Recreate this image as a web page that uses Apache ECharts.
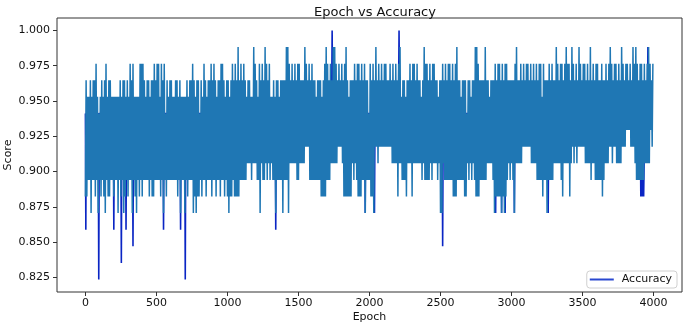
<!DOCTYPE html>
<html><head><meta charset="utf-8">
<script src="https://cdn.jsdelivr.net/npm/echarts@6/dist/echarts.min.js"></script>
<style>html,body{margin:0;padding:0;background:#fff}#c{width:685px;height:325px}</style>
</head><body><div id="c"></div>
<script>
// Accuracy values are counts of correct samples out of TEST_SAMPLES.
const TEST_SAMPLES = 85;
// Each 10-epoch bucket: lowest and highest count seen in that bucket (tab-blue trace)
const BUCKET = 10;
const hiCount = [
82,81,81,82,81,82,82,83,81,80,81,82,81,82,83,81,82,82,81,81,
81,81,81,81,82,81,82,82,81,82,81,83,82,83,81,81,81,81,83,83,
83,82,81,82,82,81,82,82,83,82,83,83,81,83,82,83,80,82,81,82,
82,81,81,82,82,81,82,81,81,81,81,82,81,82,82,83,82,81,82,82,
80,82,81,83,82,81,82,82,83,82,83,82,81,82,82,83,83,82,81,82,
82,81,82,83,82,83,82,84,82,83,82,83,82,81,82,82,81,81,84,83,
82,81,83,82,83,82,84,83,82,83,81,81,82,81,82,82,81,82,82,82,
82,84,84,83,82,83,82,83,82,83,83,82,82,82,84,83,82,83,82,83,
82,82,81,82,82,82,81,82,83,84,83,82,83,82,84,84,83,82,83,82,
83,82,83,84,82,81,82,82,82,83,82,83,83,82,83,82,83,82,82,80,
83,82,83,82,84,82,83,82,83,82,83,83,82,82,83,82,83,82,83,82,
83,84,81,82,82,81,82,82,83,82,83,83,82,83,82,82,81,82,84,83,
83,82,83,82,83,83,82,82,81,82,82,83,82,83,82,83,83,82,83,82,
83,84,82,82,81,82,82,82,80,82,82,81,82,82,84,84,83,82,82,82,
82,84,82,82,81,82,82,82,83,82,83,83,82,83,82,83,83,82,82,82,
82,82,83,84,82,82,83,82,83,82,83,83,82,83,82,83,82,83,82,83,
83,81,83,82,82,82,83,82,83,82,82,84,83,82,83,83,82,83,84,83,
83,82,84,83,82,83,82,84,83,82,83,83,82,83,82,84,82,83,82,83,
83,82,82,83,82,82,83,82,83,84,83,82,83,83,82,83,82,84,83,82,
83,83,82,83,82,84,83,84,83,82,83,83,82,83,82,83,84,83,82,83
];
const loCount = [
75,75,76,76,74,76,76,75,76,74,76,75,76,75,74,76,75,75,76,76,
75,76,76,74,76,75,76,74,75,76,75,76,76,74,76,75,74,76,75,76,
75,76,76,76,76,75,76,75,75,76,76,76,76,75,76,74,76,75,76,76,
76,76,76,76,76,75,76,74,76,76,74,76,75,76,76,76,74,75,74,75,
75,76,75,76,76,75,76,76,76,75,76,76,75,76,76,75,76,76,75,76,
75,74,75,75,76,75,75,75,75,76,76,76,76,76,77,77,77,76,77,77,
77,76,76,74,77,76,76,77,76,77,76,77,76,76,74,76,76,76,76,74,
76,76,76,74,77,77,77,77,77,76,76,77,77,77,77,78,78,78,76,76,
76,76,76,76,76,76,75,75,75,75,76,76,76,77,77,77,77,77,78,78,
78,77,75,75,75,75,75,75,77,76,77,76,75,75,75,76,76,74,76,76,
76,75,75,74,78,78,77,78,78,78,78,78,78,78,78,78,77,77,77,77,
75,77,77,76,76,76,75,77,77,77,75,77,77,77,77,77,77,76,77,76,
76,76,76,77,76,77,77,77,76,77,74,74,77,76,76,76,76,76,76,75,
75,75,76,76,76,76,76,75,75,77,76,77,76,77,76,75,75,75,76,76,
76,76,76,77,77,77,77,76,74,75,75,75,75,74,75,74,75,76,77,76,
77,76,74,77,77,77,77,77,78,78,78,78,78,78,77,77,77,77,76,76,
76,76,75,76,76,74,76,76,76,76,77,77,77,77,77,76,75,77,77,77,
77,75,77,78,77,78,77,78,78,78,78,78,77,77,77,77,76,77,77,76,
76,76,76,76,75,76,77,77,77,78,78,77,78,78,77,77,77,77,78,78,
78,79,79,79,78,78,78,77,76,76,76,76,76,76,77,77,77,77,79,78
];
// Dark-blue "Accuracy" trace: only its excursions beyond the band are visible
const darkEpoch = [0,3,6, 90,94,98, 196,200,204, 249,253,257, 282,286,290, 331,335,339,
  546,550,554, 666,670,674, 699,703,707, 1336,1340,1344, 1733,1737,1741, 1966,1970,1974,
  2031,2035,2039, 2204,2208,2212, 2511,2515,2519, 2884,2888,2892, 2926,2930,2934,
  2951,2955,2959, 3016,3020,3024, 3254,3258,3262,
  3906,3910,3915,3920,3925,3930,3935,3940, 3956,3960,3964];
const darkCount = [80,73,80, 80,70,80, 80,73,80, 80,71,80, 80,73,80, 80,72,80,
  80,73,80, 80,73,80, 80,70,80, 80,73,80, 80,85,80, 80,74,80,
  80,74,80, 80,85,80, 80,72,80, 80,74,80, 80,74,80,
  80,74,80, 80,74,80, 80,74,80,
  80,75,78,75,78,75,78,80, 80,84,80];
const yTicks = [0.825,0.85,0.875,0.9,0.925,0.95,0.975,1.0];
const xTicks = [0,500,1000,1500,2000,2500,3000,3500,4000];

const mainData = [];
for (let i = 0; i < hiCount.length; i++) {
  mainData.push([i * BUCKET, loCount[i] / TEST_SAMPLES]);
  mainData.push([i * BUCKET + BUCKET / 2, hiCount[i] / TEST_SAMPLES]);
}
const darkData = darkEpoch.map((e, i) => [e, darkCount[i] / TEST_SAMPLES]);

const FONT = 'DejaVu Sans';
const chart = echarts.init(document.getElementById('c'), null, {renderer: 'canvas'});
chart.setOption({
  animation: false,
  backgroundColor: '#fff',
  title: {
    text: 'Epoch vs Accuracy', left: 370, top: 1, textAlign: 'center',
    textStyle: {fontFamily: FONT, fontSize: 13, fontWeight: 'normal', color: '#111'}
  },
  grid: {left: 57, right: 3, top: 18, bottom: 33, show: true, borderColor: '#333', borderWidth: 1,
    backgroundColor: 'transparent', containLabel: false, outerBoundsMode: 'none'},
  legend: {
    data: ['Accuracy'], right: 8, bottom: 37, orient: 'horizontal',
    backgroundColor: '#fff', borderColor: '#d0d0d0', borderWidth: 1, borderRadius: 3,
    padding: [3, 5, 3, 3], icon: 'rect', itemWidth: 24, itemHeight: 2,
    textStyle: {fontFamily: FONT, fontSize: 11, color: '#111', padding: [0, 0, 0, 3]}
  },
  xAxis: {
    type: 'value', min: -200, max: 4200,
    name: 'Epoch', nameLocation: 'middle', nameGap: 20, nameMoveOverlap: false,
    nameTextStyle: {fontFamily: FONT, fontSize: 11, color: '#111'},
    axisLine: {show: false, onZero: false},
    axisTick: {show: true, inside: false, length: 4, lineStyle: {color: '#333'}, customValues: xTicks},
    axisLabel: {fontFamily: FONT, fontSize: 11, color: '#111', margin: 6, customValues: xTicks,
      formatter: v => String(Math.round(v))},
    splitLine: {show: false}
  },
  yAxis: {
    type: 'value', min: 0.8147, max: 1.0088,
    name: 'Score', nameLocation: 'middle', nameGap: 43, nameMoveOverlap: false,
    nameTextStyle: {fontFamily: FONT, fontSize: 11, color: '#111'},
    axisLine: {show: false, onZero: false},
    axisTick: {show: true, inside: false, length: 4, lineStyle: {color: '#333'}, customValues: yTicks},
    axisLabel: {fontFamily: FONT, fontSize: 11, color: '#111', margin: 7, customValues: yTicks,
      formatter: v => v.toFixed(3)},
    splitLine: {show: false}
  },
  series: [
    {type: 'line', name: 'Accuracy', data: darkData, symbol: 'none', z: 2,
     lineStyle: {color: '#0a25c4', width: 1.6}, itemStyle: {color: '#2a48d0'}},
    {type: 'line', name: 'trace', data: mainData, symbol: 'none', z: 3, sampling: null,
     lineStyle: {color: '#1f77b4', width: 1.5}, itemStyle: {color: '#1f77b4'}}
  ]
});
</script>
</body></html>
